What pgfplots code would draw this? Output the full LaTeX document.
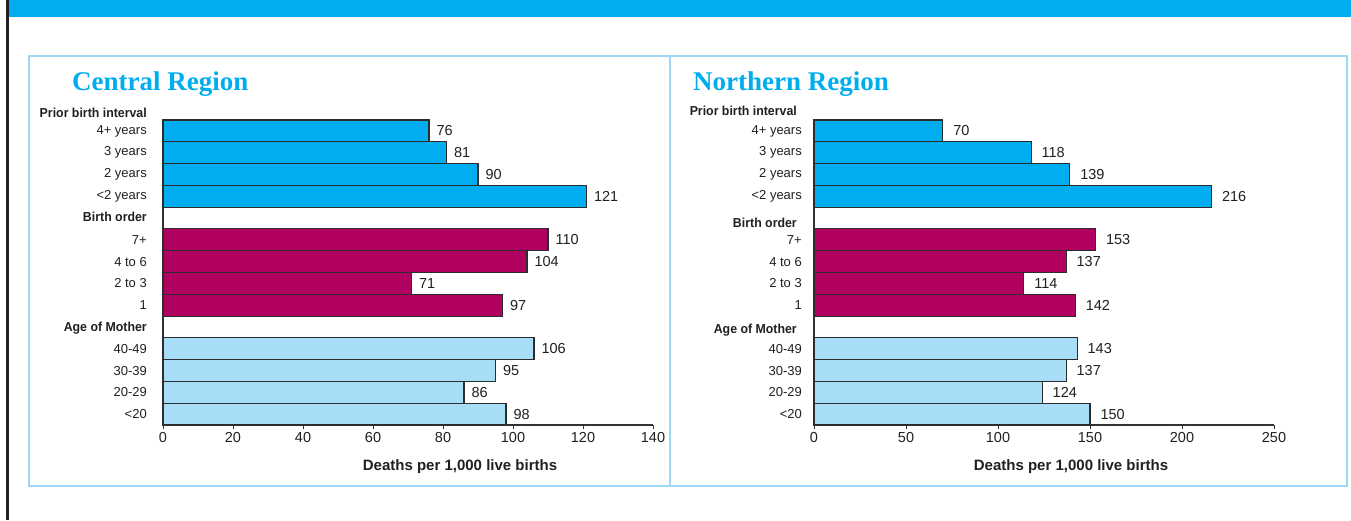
\documentclass[border=0pt]{standalone}
\usepackage{fontspec}
\setmainfont{Liberation Sans}
\newfontfamily\titlefont{Liberation Serif}
\newfontfamily\hdrfont[FakeStretch=0.95]{Liberation Sans}
\usepackage{pgfplots}
\pgfplotsset{compat=1.18}
\usepackage{pgfplotstable}

\definecolor{bannerblue}{RGB}{0,174,239}
\definecolor{panelblue}{RGB}{158,216,246}
\definecolor{darkline}{RGB}{35,31,32}
\definecolor{textc}{RGB}{35,31,32}
\definecolor{barA}{RGB}{0,174,239}
\definecolor{barB}{RGB}{176,0,96}
\definecolor{barC}{RGB}{168,221,248}
\definecolor{barline}{RGB}{45,45,45}
\definecolor{axisgray}{RGB}{50,50,50}

\pgfplotstableread{
y v
0 76
-1 81
-2 90
-3 121
}\cA
\pgfplotstableread{
y v
-5 110
-6 104
-7 71
-8 97
}\cB
\pgfplotstableread{
y v
-10 106
-11 95
-12 86
-13 98
}\cC
\pgfplotstableread{
y v
0 70
-1 118
-2 139
-3 216
}\nA
\pgfplotstableread{
y v
-5 153
-6 137
-7 114
-8 142
}\nB
\pgfplotstableread{
y v
-10 143
-11 137
-12 124
-13 150
}\nC

\newcommand{\lab}{\fontsize{13}{15}\selectfont}
\newcommand{\hdr}{\hdrfont\bfseries\fontsize{13}{15}\selectfont}
\newcommand{\val}{\fontsize{14.5}{16}\selectfont}

\pgfplotsset{
  myax/.style={
    scale only axis, height=305pt,
    xbar, bar width=1,
    ymin=-13.5, ymax=0.5, xmin=0,
    axis x line*=bottom, axis y line*=left,
    axis line style={draw=axisgray, line width=1.1pt},
    ytick={0,-1,-2,-3,-5,-6,-7,-8,-10,-11,-12,-13},
    yticklabels={4+ years,3 years,2 years,<2 years,7+,4 to 6,2 to 3,1,40-49,30-39,20-29,<20},
    ytick style={draw=none},
    tick align=outside, major tick length=4pt,
    xtick style={draw=axisgray, line width=0.8pt},
    /pgf/number format/assume math mode=true,
    xticklabel style={font=\val, text=textc},
    yticklabel style={font=\lab, text=textc, inner sep=0pt},
    clip=false,
    point meta=x,
    nodes near coords,
    every node near coord/.append style={font=\val, text=textc, anchor=west, inner sep=0pt},
    every axis plot/.append style={draw=barline, line width=1.1pt, bar shift=0pt},
  }
}

\begin{document}
\begin{tikzpicture}[x=1pt,y=1pt]
\useasboundingbox (0,0) rectangle (1351,520);
\fill[white] (0,0) rectangle (1351,520);
\fill[bannerblue] (8,503) rectangle (1351,520);
\fill[darkline] (6,0) rectangle (8.5,520);
\draw[panelblue, line width=1.4pt] (29,34) rectangle (670,464);
\draw[panelblue, line width=1.4pt] (670,34) rectangle (1347,464);

\node[anchor=base west, inner sep=0pt, text=bannerblue, font=\titlefont\bfseries\fontsize{27}{30}\selectfont] at (72,429) {Central Region};
\node[anchor=base west, inner sep=0pt, text=bannerblue, font=\titlefont\bfseries\fontsize{27}{30}\selectfont] at (693,429) {Northern Region};

\node[font=\bfseries\fontsize{15}{17}\selectfont, text=textc] at (460,53) {Deaths per 1,000 live births};
\node[font=\bfseries\fontsize{15}{17}\selectfont, text=textc] at (1071,53) {Deaths per 1,000 live births};

\begin{axis}[myax, at={(163pt,95pt)}, anchor=south west, width=490pt,
  xmax=140, xtick={0,20,...,140},
  yticklabel style={xshift=-12pt},
  every node near coord/.append style={xshift=7pt}]
\addplot[fill=barA] table[x=v,y=y]{\cA};
\addplot[fill=barB] table[x=v,y=y]{\cB};
\addplot[fill=barC] table[x=v,y=y]{\cC};
\node[anchor=east, inner sep=0pt, xshift=-16pt, font=\hdr, text=textc] at (axis cs:0,0.82) {Prior birth interval};
\node[anchor=east, inner sep=0pt, xshift=-16pt, font=\hdr, text=textc] at (axis cs:0,-3.95) {Birth order};
\node[anchor=east, inner sep=0pt, xshift=-16pt, font=\hdr, text=textc] at (axis cs:0,-9.04) {Age of Mother};
\end{axis}

\begin{axis}[myax, at={(814pt,95pt)}, anchor=south west, width=460pt,
  xmax=250, xtick={0,50,...,250},
  yticklabel style={xshift=-8pt},
  every node near coord/.append style={xshift=10pt}]
\addplot[fill=barA] table[x=v,y=y]{\nA};
\addplot[fill=barB] table[x=v,y=y]{\nB};
\addplot[fill=barC] table[x=v,y=y]{\nC};
\node[anchor=east, inner sep=0pt, xshift=-17pt, font=\hdr, text=textc] at (axis cs:0,0.91) {Prior birth interval};
\node[anchor=east, inner sep=0pt, xshift=-17pt, font=\hdr, text=textc] at (axis cs:0,-4.22) {Birth order};
\node[anchor=east, inner sep=0pt, xshift=-17pt, font=\hdr, text=textc] at (axis cs:0,-9.13) {Age of Mother};
\end{axis}
\end{tikzpicture}
\end{document}
